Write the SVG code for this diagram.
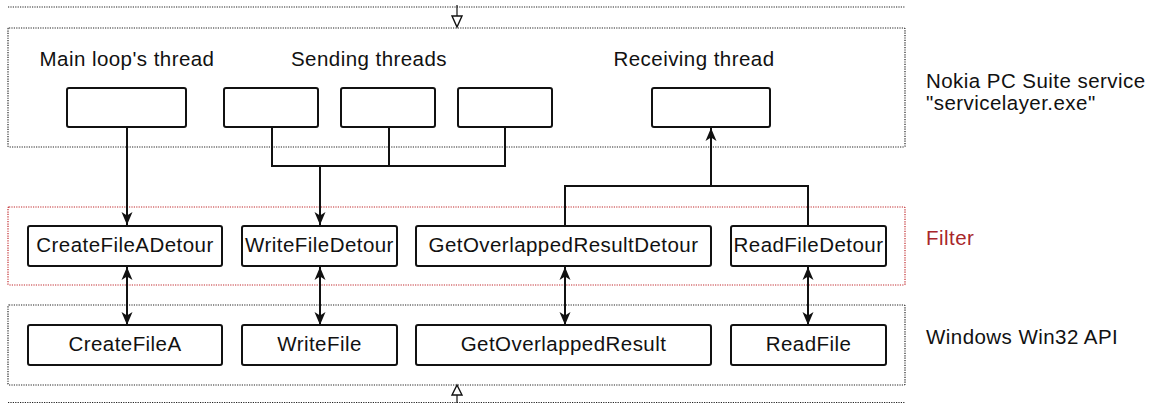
<svg xmlns="http://www.w3.org/2000/svg" width="1153" height="404" viewBox="0 0 1153 404">
<style>
.bg{fill:#fff}
.grp{fill:none;stroke:#222;stroke-width:1.2;stroke-dasharray:1.2 1.2}
.grpr{fill:none;stroke:#c0282c;stroke-width:1.2;stroke-dasharray:1.2 1.2}
.box{fill:#fff;stroke:#111;stroke-width:2}
.t{font-family:"Liberation Sans",Arial,sans-serif;font-size:20.5px;letter-spacing:0.45px;fill:#111}
.c{text-anchor:middle}
.red{fill:#a8262a}
.ln{fill:none;stroke:#111;stroke-width:2}
.thin{fill:none;stroke:#111;stroke-width:1.2}
.hol{fill:#fff;stroke:#111;stroke-width:1.4}
</style>
<defs>
<marker id="ah" markerUnits="userSpaceOnUse" markerWidth="14" markerHeight="14" refX="13" refY="7" orient="auto-start-reverse" viewBox="0 0 14 14">
<path d="M0,1.5 L13,7 L0,12.5 L3.5,7 Z" fill="#111"/>
</marker>
</defs>
<rect class="bg" x="0" y="0" width="1153" height="404"/>

<g id="outer-lines">
<line class="grp" x1="8" y1="7" x2="905" y2="7"/>
<line class="grp" x1="8" y1="402.5" x2="905" y2="402.5"/>
</g>

<g id="service">
<rect class="grp" x="8" y="28" width="897" height="119" rx="1"/>
<text class="t" x="926" y="88">Nokia PC Suite service</text>
<text class="t" x="926" y="110">"servicelayer.exe"</text>
</g>
<g id="filter">
<rect class="grpr" x="8" y="207" width="897" height="78" rx="1"/>
<text class="t red" x="926" y="245">Filter</text>
</g>
<g id="win32">
<rect class="grp" x="8" y="305" width="897" height="80" rx="1"/>
<text class="t" x="926" y="344">Windows Win32 API</text>
</g>

<g id="headings">
<text class="t c" x="127" y="66">Main loop's thread</text>
<text class="t c" x="369" y="66">Sending threads</text>
<text class="t c" x="694" y="66">Receiving thread</text>
</g>

<g id="main-thread"><rect class="box" x="67" y="88" width="119" height="39" rx="2"/></g>
<g id="send-thread-1"><rect class="box" x="224" y="88" width="94" height="39" rx="2"/></g>
<g id="send-thread-2"><rect class="box" x="341" y="88" width="94" height="39" rx="2"/></g>
<g id="send-thread-3"><rect class="box" x="458" y="88" width="94" height="39" rx="2"/></g>
<g id="recv-thread"><rect class="box" x="652" y="88" width="118" height="39" rx="2"/></g>

<g id="connectors">
<line class="ln" x1="127" y1="127" x2="127" y2="225" marker-end="url(#ah)"/>
<polyline class="ln" points="272,127 272,166 505,166 505,127"/>
<line class="ln" x1="389" y1="127" x2="389" y2="166"/>
<line class="ln" x1="320" y1="166" x2="320" y2="225" marker-end="url(#ah)"/>
<polyline class="ln" points="565,226 565,186 808,186 808,226"/>
<line class="ln" x1="711" y1="186" x2="711" y2="128" marker-end="url(#ah)"/>
<line class="ln" x1="127" y1="267" x2="127" y2="325" marker-start="url(#ah)" marker-end="url(#ah)"/>
<line class="ln" x1="320" y1="267" x2="320" y2="325" marker-start="url(#ah)" marker-end="url(#ah)"/>
<line class="ln" x1="565" y1="267" x2="565" y2="325" marker-start="url(#ah)" marker-end="url(#ah)"/>
<line class="ln" x1="808" y1="267" x2="808" y2="325" marker-start="url(#ah)" marker-end="url(#ah)"/>
<line class="thin" x1="457" y1="5" x2="457" y2="16"/>
<path class="hol" d="M452,16 L462,16 L457,27 Z"/>
<line class="thin" x1="457" y1="403" x2="457" y2="395"/>
<path class="hol" d="M452,395 L462,395 L457,385 Z"/>
</g>

<g id="CreateFileADetour"><rect class="box" x="28" y="226" width="194" height="40" rx="2"/><text class="t c" x="125" y="252">CreateFileADetour</text></g>
<g id="WriteFileDetour"><rect class="box" x="242" y="226" width="155" height="40" rx="2"/><text class="t c" x="319.5" y="252">WriteFileDetour</text></g>
<g id="GetOverlappedResultDetour"><rect class="box" x="416" y="226" width="295" height="40" rx="2"/><text class="t c" x="563.5" y="252">GetOverlappedResultDetour</text></g>
<g id="ReadFileDetour"><rect class="box" x="731" y="226" width="155" height="40" rx="2"/><text class="t c" x="808.5" y="252">ReadFileDetour</text></g>

<g id="CreateFileA"><rect class="box" x="28" y="325" width="194" height="40" rx="2"/><text class="t c" x="125" y="351">CreateFileA</text></g>
<g id="WriteFile"><rect class="box" x="242" y="325" width="155" height="40" rx="2"/><text class="t c" x="319.5" y="351">WriteFile</text></g>
<g id="GetOverlappedResult"><rect class="box" x="416" y="325" width="295" height="40" rx="2"/><text class="t c" x="563.5" y="351">GetOverlappedResult</text></g>
<g id="ReadFile"><rect class="box" x="731" y="325" width="155" height="40" rx="2"/><text class="t c" x="808.5" y="351">ReadFile</text></g>
</svg>
